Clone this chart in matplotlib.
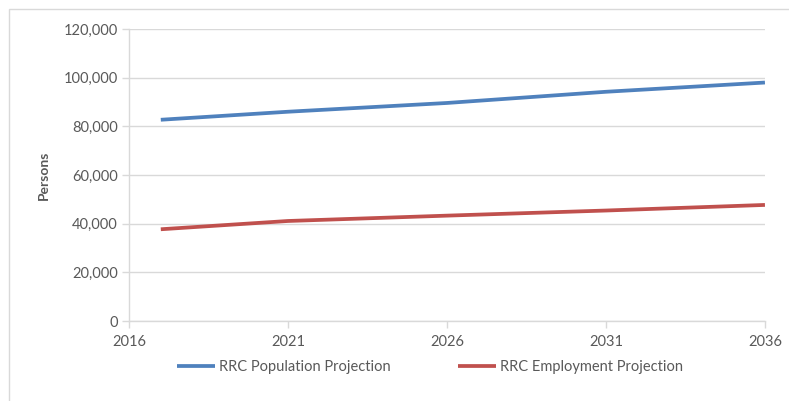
import matplotlib.pyplot as plt
from matplotlib.ticker import FuncFormatter
from matplotlib.patches import Rectangle

years = [2017, 2021, 2026, 2031, 2036]
population = [82700, 86000, 89600, 94200, 98000]
employment = [37700, 41100, 43300, 45400, 47700]
x_ticks = [2016, 2021, 2026, 2031, 2036]
y_ticks = [0, 20000, 40000, 60000, 80000, 100000, 120000]

plt.rcParams['font.family'] = ['Lato', 'DejaVu Sans']
text_col = '#595959'
grid_col = '#d9d9d9'
fs = 10.5

fig = plt.figure(figsize=(7.89, 4.01), dpi=100)
ax = fig.add_axes([0.1635, 0.1995, 0.806, 0.7282])

# chart frame (left/top edges visible)
fig.patches.append(Rectangle((9 / 789, -0.1), 1.2, 1.1 - 9 / 401, transform=fig.transFigure,
                             fill=False, edgecolor='#d9d9d9', linewidth=1.0))

ax.plot(years, population, color='#4f81bd', linewidth=2.7, solid_capstyle='butt',
        label='RRC Population Projection')
ax.plot(years, employment, color='#c0504d', linewidth=2.7, solid_capstyle='butt',
        label='RRC Employment Projection')

ax.set_xlim(2016, 2036)
ax.set_ylim(0, 120000)
ax.set_xticks(x_ticks)
ax.set_yticks(y_ticks)
ax.yaxis.set_major_formatter(FuncFormatter(lambda v, p: f'{int(v):,}'))

ax.grid(axis='y', color=grid_col, linewidth=1.0)
ax.set_axisbelow(True)
for side in ['top', 'right']:
    ax.spines[side].set_visible(False)
for side in ['left', 'bottom']:
    ax.spines[side].set_color(grid_col)
    ax.spines[side].set_linewidth(1.0)

ax.tick_params(axis='both', colors=grid_col, labelcolor=text_col, labelsize=fs,
               length=5, width=1.0)
ax.tick_params(axis='x', pad=5)
ax.tick_params(axis='y', pad=3)

ax.set_ylabel('Persons', fontsize=10, fontweight='bold', color=text_col, labelpad=10)

leg = ax.legend(loc='upper center', bbox_to_anchor=(0.473, -0.088), ncol=2, frameon=False,
                fontsize=fs, handlelength=2.6, handletextpad=0.3, columnspacing=4.6)
for t in leg.get_texts():
    t.set_color(text_col)

fig.savefig('out.png', dpi=100)
